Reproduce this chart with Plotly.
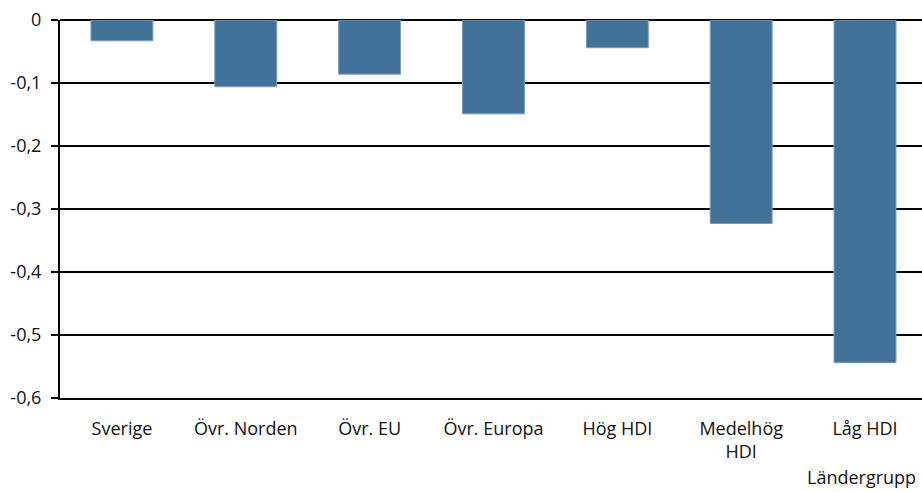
import plotly.graph_objects as go

# Change per country group
categories = ["Sverige", "Övr. Norden", "Övr. EU", "Övr. Europa", "Hög HDI", "Medelhög<br>HDI", "Låg HDI"]
values = [-0.033, -0.106, -0.086, -0.149, -0.044, -0.323, -0.544]

tick_vals = [0, -0.1, -0.2, -0.3, -0.4, -0.5, -0.6]
tick_text = ["0", "-0,1", "-0,2", "-0,3", "-0,4", "-0,5", "-0,6"]

FONT = "'Open Sans', Lato, sans-serif"
TEXT_COLOR = "#111111"

fig = go.Figure(
    go.Bar(
        x=categories,
        y=values,
        marker=dict(color="#41729A", line=dict(color="#7B9DBA", width=1)),
    )
)

fig.update_layout(
    width=922,
    height=492,
    margin=dict(l=60, r=0, t=20, b=93.5),
    paper_bgcolor="white",
    plot_bgcolor="white",
    bargap=0.5,
    showlegend=False,
    font=dict(family=FONT, size=18, color=TEXT_COLOR),
    annotations=[
        dict(
            text="Ländergrupp",
            xref="paper", yref="paper",
            x=1, y=-0.21,
            xanchor="right", yanchor="middle",
            xshift=-4,
            showarrow=False,
            font=dict(family=FONT, size=18, color=TEXT_COLOR),
        )
    ],
)

fig.update_yaxes(
    range=[-0.6, 0],
    tickvals=tick_vals,
    ticktext=tick_text,
    showgrid=True,
    gridcolor="black",
    gridwidth=2,
    zeroline=True,
    zerolinecolor="black",
    zerolinewidth=2,
    showline=True,
    linecolor="black",
    linewidth=2,
    ticks="outside",
    ticklen=7,
    tickwidth=2,
    tickcolor="black",
    ticklabelstandoff=6,
)

fig.update_xaxes(
    range=[-0.5, 6.46],
    showline=True,
    linecolor="black",
    linewidth=2,
    ticks="",
    showgrid=False,
    ticklabelstandoff=13,
)

fig.write_html("out.html")
